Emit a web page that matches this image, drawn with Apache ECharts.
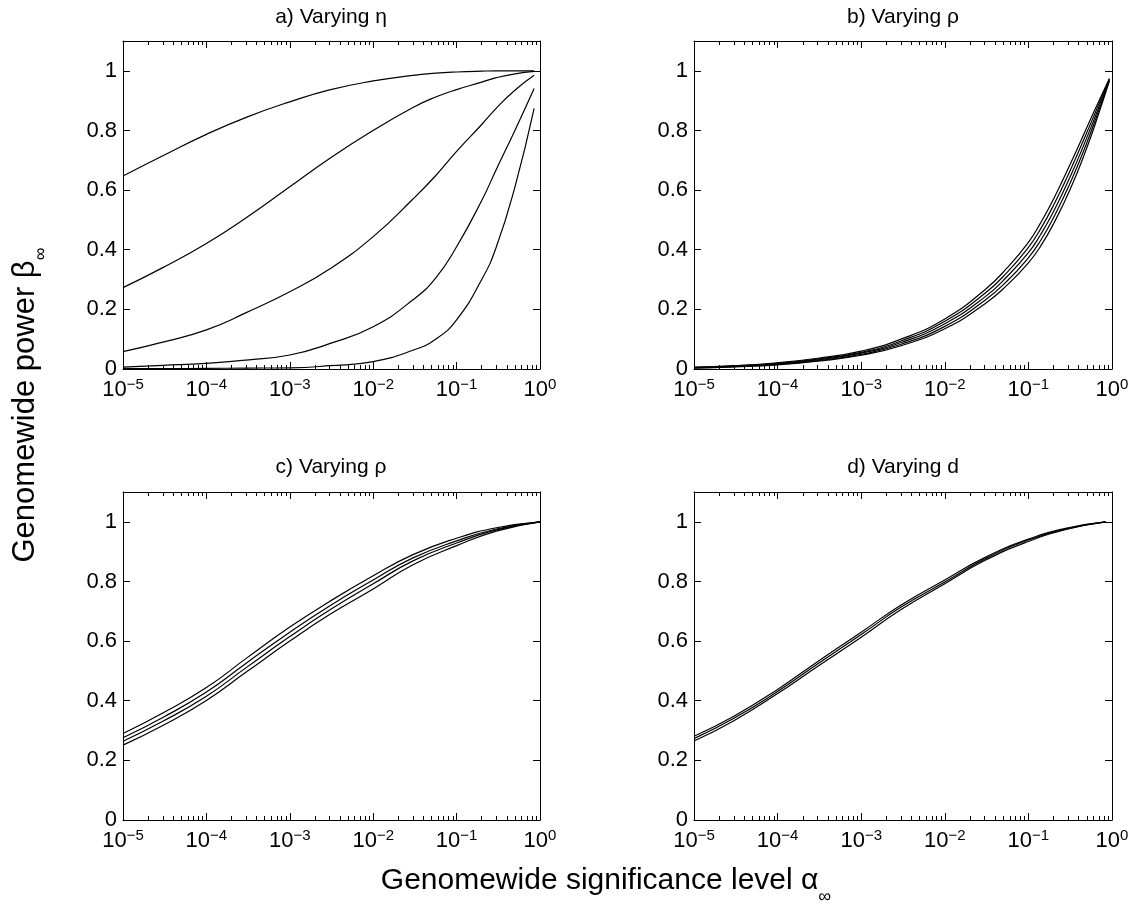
<!DOCTYPE html>
<html>
<head>
<meta charset="utf-8">
<title>Genomewide power</title>
<script src="https://cdn.jsdelivr.net/npm/echarts@6/dist/echarts.min.js"></script>
<style>
  html, body { margin: 0; background: #fff; }
  #chart { width: 1136px; height: 908px; }
</style>
</head>
<body>
<div id="chart"></div>
<script>
// significance levels (x) for each panel
const alphaA = [1e-5, 3e-5, 1e-4, 3e-4, 1e-3, 3e-3, 0.01, 0.03, 0.056, 0.1, 0.2, 0.3, 0.5, 0.85];
const alphaB = [1e-5, 3e-5, 1e-4, 3e-4, 1e-3, 3e-3, 0.01, 0.03, 0.056, 0.1, 0.14, 0.2, 0.32, 0.5, 0.7, 0.93];
const alphaC = [1e-5, 3e-5, 1e-4, 3e-4, 1e-3, 3e-3, 0.01, 0.03, 0.1, 0.3, 1];
const alphaD = [1e-5, 3e-5, 1e-4, 3e-4, 1e-3, 3e-3, 0.01, 0.03, 0.1, 0.3, 0.84];

// a) varying eta
const powerA1 = [0.647, 0.715, 0.787, 0.844, 0.896, 0.936, 0.966, 0.985, 0.992, 0.996, 0.999, 1.0, 1.0, 1.0];
const powerA2 = [0.273, 0.340, 0.421, 0.507, 0.611, 0.706, 0.800, 0.877, 0.912, 0.937, 0.962, 0.977, 0.990, 0.998];
const powerA3 = [0.058, 0.090, 0.131, 0.189, 0.259, 0.335, 0.444, 0.570, 0.648, 0.730, 0.820, 0.875, 0.935, 0.985];
const powerA4 = [0.006, 0.012, 0.019, 0.030, 0.047, 0.085, 0.142, 0.232, 0.305, 0.410, 0.565, 0.670, 0.800, 0.941];
const powerA5 = [0.001, 0.001, 0.002, 0.003, 0.004, 0.011, 0.025, 0.063, 0.100, 0.165, 0.300, 0.410, 0.610, 0.874];

// b) varying rho
const powerB1 = [0.006, 0.011, 0.021, 0.036, 0.060, 0.100, 0.168, 0.265, 0.340, 0.425, 0.490, 0.570, 0.690, 0.810, 0.900, 0.974];
const powerB2 = [0.005, 0.010, 0.019, 0.033, 0.056, 0.094, 0.160, 0.253, 0.325, 0.408, 0.470, 0.549, 0.669, 0.793, 0.890, 0.972];
const powerB3 = [0.005, 0.009, 0.017, 0.031, 0.053, 0.089, 0.152, 0.241, 0.311, 0.390, 0.451, 0.528, 0.648, 0.776, 0.880, 0.970];
const powerB4 = [0.004, 0.008, 0.016, 0.028, 0.049, 0.083, 0.143, 0.230, 0.296, 0.373, 0.431, 0.508, 0.627, 0.759, 0.870, 0.968];
const powerB5 = [0.003, 0.007, 0.014, 0.026, 0.046, 0.078, 0.135, 0.218, 0.282, 0.356, 0.412, 0.487, 0.606, 0.742, 0.860, 0.966];

// c) varying rho
const powerC1 = [0.290, 0.359, 0.444, 0.542, 0.647, 0.733, 0.819, 0.890, 0.945, 0.980, 1.0];
const powerC2 = [0.276, 0.344, 0.429, 0.526, 0.630, 0.718, 0.805, 0.879, 0.936, 0.976, 1.0];
const powerC3 = [0.264, 0.331, 0.415, 0.511, 0.615, 0.704, 0.792, 0.869, 0.929, 0.973, 1.0];
const powerC4 = [0.251, 0.317, 0.401, 0.496, 0.600, 0.689, 0.775, 0.856, 0.920, 0.969, 1.0];

// d) varying d
const powerD1 = [0.281, 0.348, 0.438, 0.531, 0.630, 0.721, 0.805, 0.880, 0.942, 0.980, 1.0];
const powerD2 = [0.273, 0.341, 0.431, 0.523, 0.622, 0.714, 0.798, 0.875, 0.939, 0.978, 1.0];
const powerD3 = [0.265, 0.333, 0.424, 0.515, 0.613, 0.706, 0.792, 0.870, 0.934, 0.976, 1.0];

const yTicks = [0, 0.2, 0.4, 0.6, 0.8, 1];
const decades = [1e-5, 1e-4, 1e-3, 1e-2, 1e-1];
const minorSteps = [2, 3, 4, 5, 6, 7, 8, 9];
const xMinorTicks = [];
decades.forEach(d => minorSteps.forEach(k => xMinorTicks.push(Number((k * d).toPrecision(3)))));

const panelTitles = ['a) Varying η', 'b) Varying ρ', 'c) Varying ρ', 'd) Varying d'];

const FONT = 'Liberation Sans, Arial, Helvetica, sans-serif';

const grids = [
  {left: 123, top: 41, width: 417, height: 328},
  {left: 694, top: 41, width: 418, height: 328},
  {left: 123, top: 492, width: 417, height: 328},
  {left: 694, top: 492, width: 418, height: 328}
];

const panels = [
  {x: alphaA, ys: [powerA1, powerA2, powerA3, powerA4, powerA5]},
  {x: alphaB, ys: [powerB1, powerB2, powerB3, powerB4, powerB5]},
  {x: alphaC, ys: [powerC1, powerC2, powerC3, powerC4]},
  {x: alphaD, ys: [powerD1, powerD2, powerD3]}
];

const black = {color: '#000', width: 1};

const logLabel = (v) => {
  const e = Math.round(Math.log10(v));
  return '{b|10}{s|' + (e < 0 ? '\u2212' + (-e) : e) + '}';
};

const xAxes = [];
const yAxes = [];
grids.forEach((g, i) => {
  const base = {
    type: 'log', logBase: 10, gridIndex: i, min: 1e-5, max: 1,
    splitLine: {show: false}, minorTick: {show: false}, minorSplitLine: {show: false}
  };
  // bottom: major ticks + labels
  xAxes.push(Object.assign({}, base, {
    position: 'bottom',
    axisLine: {show: true, onZero: false, lineStyle: black},
    axisTick: {show: true, inside: true, length: 7, lineStyle: black},
    axisLabel: {
      show: true, margin: 8, formatter: logLabel,
      rich: {
        b: {fontSize: 22, lineHeight: 24, fontFamily: FONT, color: '#000', verticalAlign: 'bottom'},
        s: {fontSize: 15, lineHeight: 15, fontFamily: FONT, color: '#000', verticalAlign: 'top', padding: [0, 0, 11, 0]}
      }
    }
  }));
  // bottom: minor ticks
  xAxes.push(Object.assign({}, base, {
    position: 'bottom',
    axisLine: {show: false, onZero: false},
    axisTick: {show: true, inside: true, length: 4, lineStyle: black, customValues: xMinorTicks},
    axisLabel: {show: false}
  }));
  // top: major ticks
  xAxes.push(Object.assign({}, base, {
    position: 'top',
    axisLine: {show: true, onZero: false, lineStyle: black},
    axisTick: {show: true, inside: true, length: 7, lineStyle: black},
    axisLabel: {show: false}
  }));
  // top: minor ticks
  xAxes.push(Object.assign({}, base, {
    position: 'top',
    axisLine: {show: false, onZero: false},
    axisTick: {show: true, inside: true, length: 4, lineStyle: black, customValues: xMinorTicks},
    axisLabel: {show: false}
  }));

  yAxes.push({
    type: 'value', gridIndex: i, position: 'left', min: 0, max: 1.1,
    splitLine: {show: false},
    axisLine: {show: true, onZero: false, lineStyle: black},
    axisTick: {show: true, inside: true, length: 7, lineStyle: black, customValues: yTicks},
    axisLabel: {show: true, customValues: yTicks, margin: 6, fontSize: 22, fontFamily: FONT, color: '#000'}
  });
  yAxes.push({
    type: 'value', gridIndex: i, position: 'right', min: 0, max: 1.1,
    splitLine: {show: false},
    axisLine: {show: true, onZero: false, lineStyle: black},
    axisTick: {show: true, inside: true, length: 7, lineStyle: black, customValues: yTicks},
    axisLabel: {show: false}
  });
});

const series = [];
panels.forEach((p, i) => {
  p.ys.forEach(ys => {
    series.push({
      type: 'line',
      xAxisIndex: i * 4,
      yAxisIndex: i * 2,
      data: p.x.map((a, k) => [a, ys[k]]),
      showSymbol: false,
      smooth: 0.5,
      lineStyle: {color: '#000', width: 1.2},
      itemStyle: {color: '#000'},
      silent: true
    });
  });
});

const titleText = (text, x, y) => ({
  type: 'text', x: x, y: y, silent: true,
  style: {
    text: text, fontSize: 21, fontFamily: FONT, fill: '#000',
    align: 'center', verticalAlign: 'middle', textAlign: 'center', textVerticalAlign: 'middle'
  }
});

const nameRich = (size) => ({
  m: {fontSize: size, lineHeight: 32, fontFamily: FONT, fill: '#000', color: '#000', verticalAlign: 'top'},
  s: {fontSize: 18, lineHeight: 18, fontFamily: FONT, fill: '#000', color: '#000', verticalAlign: 'top', padding: [22, 0, 0, 0]}
});

const graphic = [
  titleText(panelTitles[0], 331, 17),
  titleText(panelTitles[1], 903, 17),
  titleText(panelTitles[2], 331, 467),
  titleText(panelTitles[3], 903, 467),
  {
    type: 'text', x: 606, y: 882, silent: true,
    style: {
      text: '{m|Genomewide significance level α}{s|∞}', rich: nameRich(30),
      align: 'center', verticalAlign: 'middle', textAlign: 'center', textVerticalAlign: 'middle'
    }
  },
  {
    type: 'text', x: 26, y: 405, rotation: Math.PI / 2, silent: true,
    style: {
      text: '{m|Genomewide power β}{s|∞}', rich: nameRich(31),
      align: 'center', verticalAlign: 'middle', textAlign: 'center', textVerticalAlign: 'middle'
    }
  }
];

const chart = echarts.init(document.getElementById('chart'));
chart.setOption({
  animation: false,
  backgroundColor: '#fff',
  textStyle: {fontFamily: FONT},
  grid: grids,
  xAxis: xAxes,
  yAxis: yAxes,
  series: series,
  graphic: graphic
});
</script>
</body>
</html>
